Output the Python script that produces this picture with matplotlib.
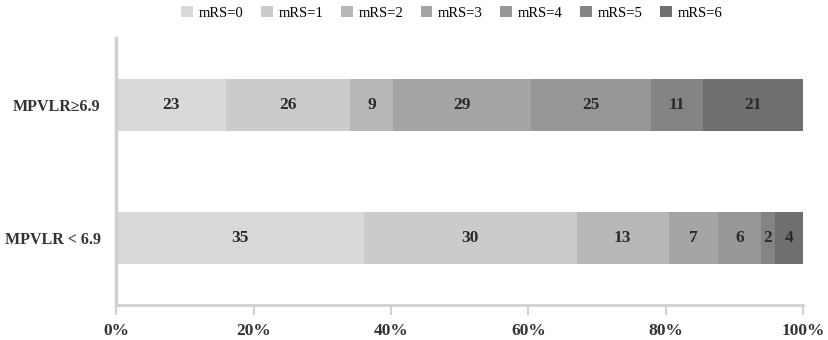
import numpy as np
import matplotlib.pyplot as plt

plt.rcParams['font.family'] = ['Liberation Serif', 'DejaVu Serif']

groups = ['MPVLR < 6.9', 'MPVLR≥6.9']
labels = ['mRS=0', 'mRS=1', 'mRS=2', 'mRS=3', 'mRS=4', 'mRS=5', 'mRS=6']
low = [35, 30, 13, 7, 6, 2, 4]
high = [23, 26, 9, 29, 25, 11, 21]
colors = ['#d9d9d9', '#cbcbcb', '#b7b7b7', '#a5a5a5', '#979797', '#848484', '#6f6f6f']

counts = np.array([low, high], dtype=float)
share = counts / counts.sum(axis=1, keepdims=True)

fig = plt.figure(figsize=(8.29, 3.40), dpi=100)
ax = fig.add_axes([0.140, 0.104, 0.829, 0.784])

ypos = np.arange(len(groups))
left = np.zeros(len(groups))
for i, lab in enumerate(labels):
    bars = ax.barh(ypos, share[:, i], left=left, height=0.39,
                   color=colors[i], label=lab)
    for j, b in enumerate(bars):
        ax.text(left[j] + share[j, i] / 2, ypos[j], str(int(counts[j, i])),
                ha='center', va='center', fontsize=12.5, fontweight='bold',
                color='#2a2a2a')
    left += share[:, i]

ax.set_xlim(0, 1)
ax.set_ylim(-0.5, 1.5)
ax.set_yticks(ypos)
ax.set_yticklabels(groups, fontsize=11.5, fontweight='bold', color='#333333')
ax.set_xticks(np.linspace(0, 1, 6))
ax.set_xticklabels(['0%', '20%', '40%', '60%', '80%', '100%'],
                   fontsize=12.5, fontweight='bold', color='#333333')
ax.tick_params(axis='y', length=0, pad=11)
ax.tick_params(axis='x', length=7, width=1.5, color='#d0d0d0', pad=6)

for s in ['top', 'right']:
    ax.spines[s].set_visible(False)
ax.spines['left'].set_color('#d0d0d0')
ax.spines['left'].set_linewidth(2.5)
ax.spines['bottom'].set_color('#d0d0d0')
ax.spines['bottom'].set_linewidth(2)

fig.legend(loc='upper center', bbox_to_anchor=(0.545, 1.02), ncol=7,
           frameon=False, fontsize=10.5, handlelength=0.8, handleheight=0.8,
           handletextpad=0.4, columnspacing=1.2)

plt.savefig('out.png', dpi=100)
